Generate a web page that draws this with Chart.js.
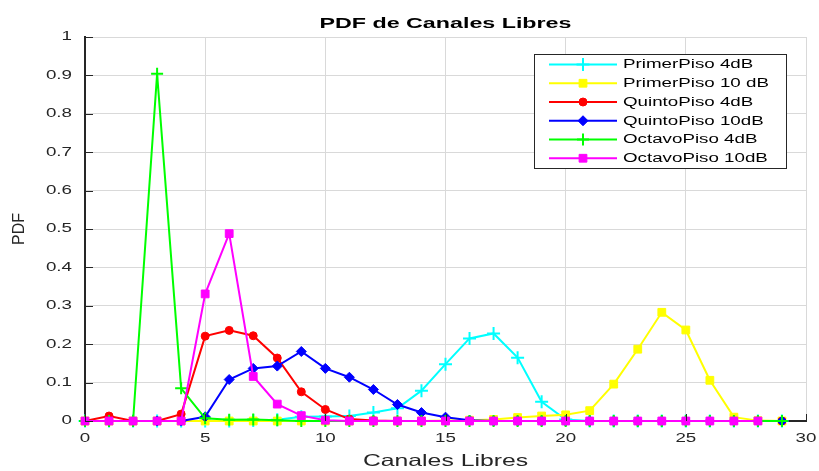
<!DOCTYPE html>
<html lang="es">
<head>
<meta charset="utf-8">
<title>PDF de Canales Libres</title>
<script src="https://cdn.jsdelivr.net/npm/chart.js@4/dist/chart.umd.min.js"></script>
<style>
  html, body { margin: 0; padding: 0; background: #ffffff; }
  #chartBox { width: 819px; height: 471px; position: relative; }
</style>
</head>
<body>
<div id="chartBox"><canvas id="pdfChart"></canvas></div>
<script>
const chartTitle = 'PDF de Canales Libres';
const xAxisTitle = 'Canales Libres';
const yAxisTitle = 'PDF';

const canales = [0, 1, 2, 3, 4, 5, 6, 7, 8, 9, 10, 11, 12, 13, 14, 15, 16, 17, 18, 19, 20, 21, 22, 23, 24, 25, 26, 27, 28, 29];

const primerPiso4dB = [0, 0, 0, 0, 0, 0, 0, 0.001, 0.003, 0.011, 0.012, 0.013, 0.022, 0.033, 0.079, 0.148, 0.215, 0.228, 0.165, 0.050, 0.004, 0, 0, 0, 0, 0, 0, 0, 0, 0];
const primerPiso10dB = [0, 0, 0, 0, 0, 0, 0, 0, 0, 0, 0, 0, 0, 0, 0, 0.001, 0.002, 0.004, 0.009, 0.013, 0.016, 0.027, 0.096, 0.187, 0.283, 0.237, 0.106, 0.010, 0.001, 0];
const quintoPiso4dB = [0, 0.013, 0, 0, 0.018, 0.221, 0.236, 0.222, 0.164, 0.076, 0.030, 0.005, 0.001, 0, 0, 0, 0, 0, 0, 0, 0, 0, 0, 0, 0, 0, 0, 0, 0, 0];
const quintoPiso10dB = [0, 0, 0, 0, 0, 0.011, 0.108, 0.137, 0.143, 0.181, 0.137, 0.114, 0.082, 0.043, 0.022, 0.010, 0.002, 0, 0, 0, 0, 0, 0, 0, 0, 0, 0, 0, 0, 0];
const octavoPiso4dB = [0, 0, 0, 0.904, 0.085, 0.007, 0.003, 0.004, 0.002, 0, 0, 0, 0, 0, 0, 0, 0, 0, 0, 0, 0, 0, 0, 0, 0, 0, 0, 0, 0, 0];
const octavoPiso10dB = [0, 0, 0, 0, 0, 0.331, 0.488, 0.116, 0.044, 0.014, 0.002, 0, 0, 0, 0, 0, 0, 0, 0, 0, 0, 0, 0, 0, 0, 0, 0, 0, 0];

const seriesNames = ['PrimerPiso 4dB', 'PrimerPiso 10 dB', 'QuintoPiso 4dB', 'QuintoPiso 10dB', 'OctavoPiso 4dB', 'OctavoPiso 10dB'];

const FONT = '"Liberation Sans", Arial, Helvetica, sans-serif';
const INK = '#262626';
const TEXT_STRETCH = 1.5;

function toPoints(values) {
  return values.map((value, index) => ({ x: canales[index], y: value }));
}

function makeSeries(label, values, color, pointStyle, radius, pointBorder, order) {
  return {
    label,
    data: toPoints(values),
    borderColor: color,
    backgroundColor: color,
    pointBackgroundColor: color,
    pointBorderColor: color,
    borderWidth: 2,
    pointStyle,
    pointRadius: radius,
    pointBorderWidth: pointBorder,
    tension: 0,
    clip: false,
    order
  };
}

// MATLAB text in the reference is rendered noticeably wider than normal,
// so horizontal text gets stretched a bit. Rotated text is left alone.
const wideTextPlugin = {
  id: 'wideText',
  beforeInit(chart) {
    const ctx = chart.ctx;
    const fillText = ctx.fillText.bind(ctx);
    ctx.fillText = (text, x, y) => {
      const m = ctx.getTransform();
      if (Math.abs(m.b) > 0.01) {
        fillText(text, x, y);
        return;
      }
      ctx.save();
      ctx.translate(x, y);
      ctx.scale(TEXT_STRETCH, 1);
      fillText(text, 0, 0);
      ctx.restore();
    };
  }
};

const titlePlugin = {
  id: 'plotTitle',
  afterDraw(chart) {
    const { ctx, chartArea } = chart;
    ctx.save();
    ctx.font = `bold 15.5px ${FONT}`;
    ctx.fillStyle = '#000000';
    ctx.textAlign = 'center';
    ctx.textBaseline = 'alphabetic';
    ctx.fillText(chartTitle, (chartArea.left + chartArea.right) / 2, 28);
    ctx.restore();
  }
};

const innerTicksPlugin = {
  id: 'innerTicks',
  afterDatasetsDraw(chart) {
    const { ctx, chartArea, scales } = chart;
    ctx.save();
    ctx.strokeStyle = INK;
    ctx.lineWidth = 1;
    ctx.beginPath();
    scales.y.ticks.forEach((tick) => {
      const y = Math.round(scales.y.getPixelForValue(tick.value)) + 0.5;
      ctx.moveTo(chartArea.left, y);
      ctx.lineTo(chartArea.left + 8, y);
    });
    scales.x.ticks.forEach((tick) => {
      const x = Math.round(scales.x.getPixelForValue(tick.value)) + 0.5;
      ctx.moveTo(x, chartArea.bottom);
      ctx.lineTo(x, chartArea.bottom - 7);
    });
    ctx.stroke();
    ctx.restore();
  }
};

const boxLegendPlugin = {
  id: 'boxLegend',
  afterDraw(chart) {
    const { ctx, chartArea } = chart;
    const width = 252;
    const height = 114;
    const left = chartArea.right - 20 - width;
    const top = chartArea.top + 17;

    ctx.save();
    ctx.fillStyle = '#ffffff';
    ctx.fillRect(left, top, width, height);
    ctx.strokeStyle = INK;
    ctx.lineWidth = 1;
    ctx.strokeRect(Math.round(left) + 0.5, Math.round(top) + 0.5, width, height);

    ctx.font = `12.5px ${FONT}`;
    ctx.textAlign = 'left';
    ctx.textBaseline = 'middle';

    chart.data.datasets.forEach((dataset, index) => {
      const y = top + 10.5 + index * 18.75;
      ctx.strokeStyle = dataset.borderColor;
      ctx.lineWidth = dataset.borderWidth;
      ctx.beginPath();
      ctx.moveTo(left + 15, y);
      ctx.lineTo(left + 83, y);
      ctx.stroke();

      ctx.fillStyle = dataset.pointBackgroundColor;
      ctx.lineWidth = dataset.pointBorderWidth;
      Chart.helpers.drawPoint(ctx, {
        pointStyle: dataset.pointStyle,
        radius: dataset.pointRadius,
        borderWidth: dataset.pointBorderWidth,
        rotation: 0
      }, left + 49, y);

      ctx.fillStyle = '#000000';
      ctx.fillText(dataset.label, left + 89, y + 0.5);
    });
    ctx.restore();
  }
};

const datasets = [
  makeSeries(seriesNames[0], primerPiso4dB, '#00ffff', 'cross', 6.5, 2, 5),
  makeSeries(seriesNames[1], primerPiso10dB, '#ffff00', 'rect', 5.5, 1, 4),
  makeSeries(seriesNames[2], quintoPiso4dB, '#ff0000', 'circle', 4, 1, 3),
  makeSeries(seriesNames[3], quintoPiso10dB, '#0000ff', 'rectRot', 5, 1, 2),
  makeSeries(seriesNames[4], octavoPiso4dB, '#00ff00', 'cross', 6, 2, 1),
  makeSeries(seriesNames[5], octavoPiso10dB, '#ff00ff', 'rect', 5.5, 1, 0)
];

new Chart(document.getElementById('pdfChart'), {
  type: 'line',
  data: { datasets },
  options: {
    responsive: true,
    maintainAspectRatio: false,
    animation: false,
    layout: { padding: { top: 37, right: 13, bottom: 0, left: 0 } },
    plugins: {
      legend: { display: false },
      tooltip: { enabled: false },
      title: { display: false }
    },
    scales: {
      x: {
        type: 'linear',
        min: 0,
        max: 30,
        afterFit(scale) {
          scale.height = 50;
          scale.paddingLeft = 0;
          scale.paddingRight = 0;
        },
        ticks: { stepSize: 5, padding: 10, color: INK, font: { family: FONT, size: 12.5 }, maxRotation: 0 },
        grid: { color: '#d9d9d9', lineWidth: 1, drawTicks: false },
        border: { color: INK, width: 2 },
        title: { display: true, text: xAxisTitle, color: INK, padding: 0, font: { family: FONT, size: 16.5 } }
      },
      y: {
        min: 0,
        max: 1,
        afterFit(scale) { scale.width = 85; },
        ticks: {
          stepSize: 0.1,
          padding: 13,
          color: INK,
          font: { family: FONT, size: 12.5 },
          callback: (value) => String(Number(value.toFixed(1)))
        },
        grid: { color: '#d9d9d9', lineWidth: 1, drawTicks: false },
        border: { color: INK, width: 2 },
        title: { display: true, text: yAxisTitle, color: INK, padding: 10, font: { family: FONT, size: 16 } }
      }
    }
  },
  plugins: [wideTextPlugin, titlePlugin, innerTicksPlugin, boxLegendPlugin]
});
</script>
</body>
</html>
